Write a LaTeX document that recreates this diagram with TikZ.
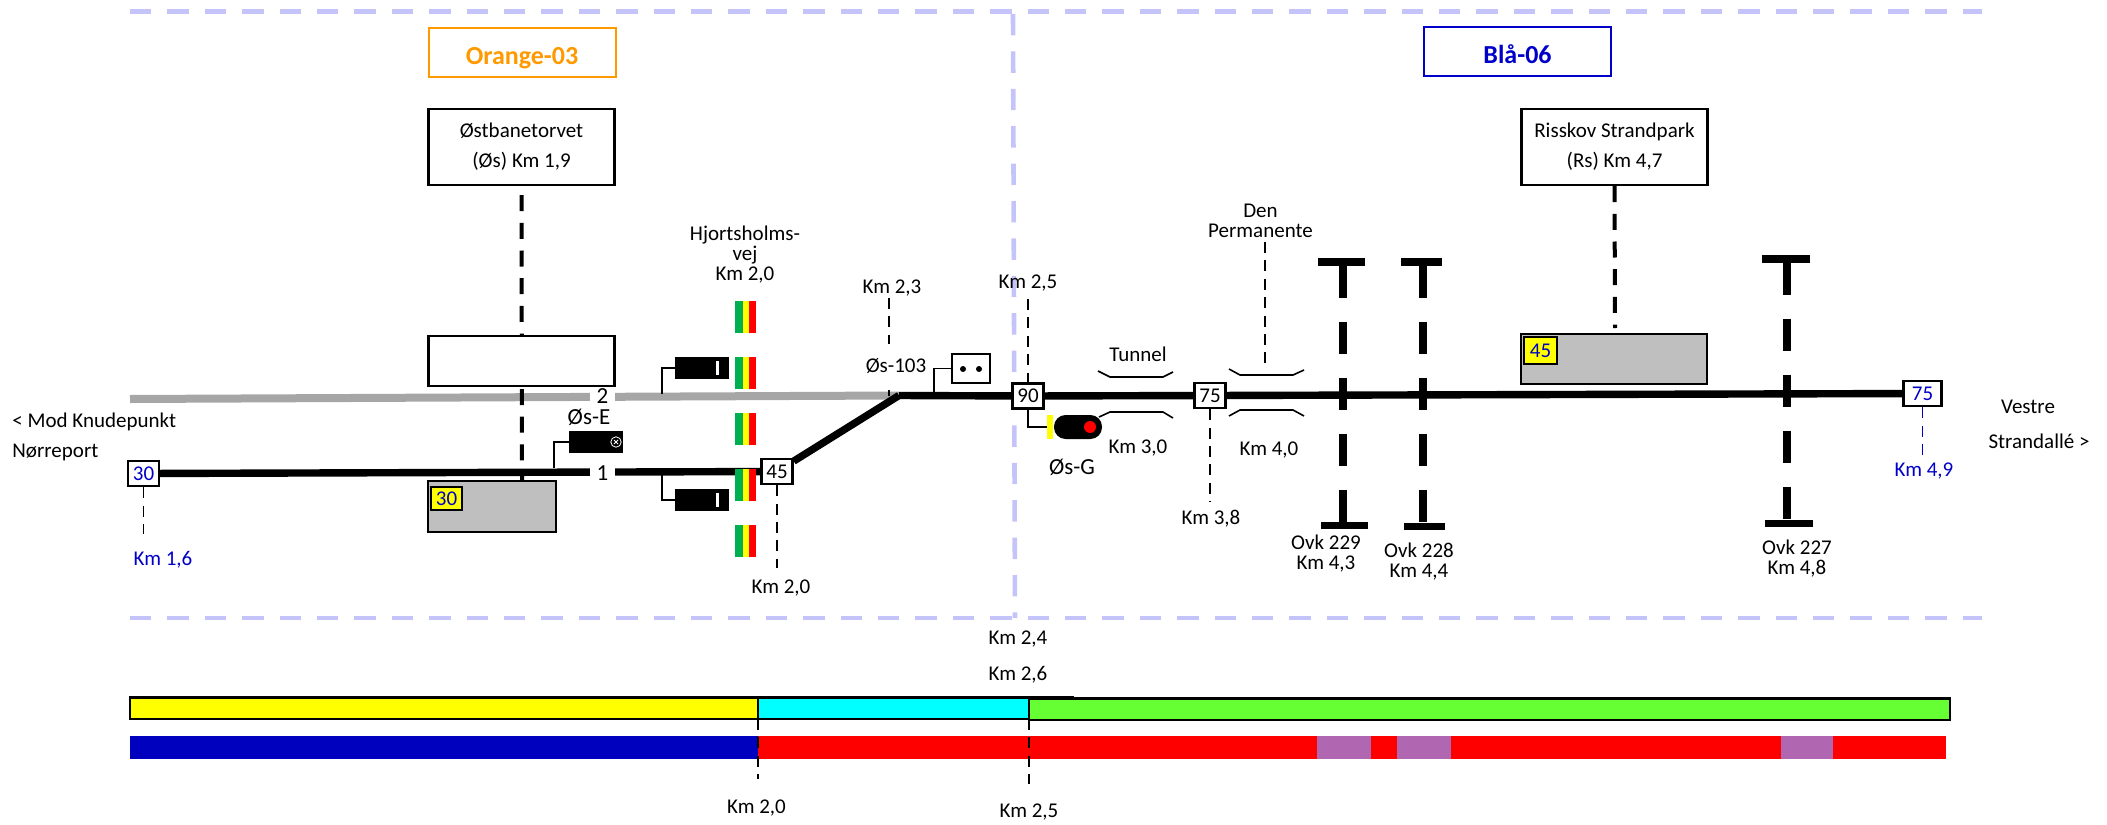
\documentclass[tikz,border=0pt]{standalone}
\usepackage{xcolor}
\usepackage{fontspec}
\setmainfont{Carlito}
\usetikzlibrary{positioning}
\definecolor{zoneline}{HTML}{C4C4FA}
\definecolor{lineorange}{HTML}{FF9900}
\definecolor{lineblue}{HTML}{0000C8}
\definecolor{trackgrey}{HTML}{A6A6A6}
\definecolor{perrongrey}{HTML}{BFBFBF}
\definecolor{barblue}{HTML}{0000BF}
\definecolor{bargreen}{HTML}{66FF33}
\definecolor{barpurple}{HTML}{B066B0}
\definecolor{barcyan}{HTML}{00FFFF}
\definecolor{baryellow}{HTML}{FFFF00}
\definecolor{barred}{HTML}{FF0000}
\definecolor{stripegreen}{HTML}{00B050}
\tikzset{
	txt/.style={inner sep=0pt,yshift=-.5pt,font=\fontsize{10.5}{10}\selectfont,align=center},
	bluetxt/.style={txt,text=lineblue},
	sigtxt/.style={inner sep=0pt,yshift=-.5pt,font=\fontsize{11.5}{12}\selectfont},
	stationbox/.style={draw,fill=white,line width=1.1pt,inner sep=0pt,minimum width=93pt,minimum height=38pt,align=center,font=\fontsize{10.5}{15}\selectfont},
	linebox/.style={draw,line width=1pt,inner sep=0pt,minimum width=93.5pt,minimum height=24.5pt,text height=12pt,text depth=0pt,font=\bfseries\fontsize{13}{13}\selectfont},
	perron/.style={draw,fill=perrongrey,line width=1.1pt,inner sep=0pt},
	speedbox/.style={draw,fill=white,line width=1.2pt,inner sep=0pt,minimum width=15.5pt,minimum height=12.5pt,font=\fontsize{10.5}{10}\selectfont},
	speedsign/.style={speedbox,fill=baryellow,text=lineblue},
	track/.style={line width=3.7pt},
	greytrack/.style={line width=4pt,trackgrey},
	stem/.style={line width=.65pt},
	kmline/.style={line width=.75pt,dash pattern=on 5.5pt off 3.7pt},
	stopline/.style={line width=2pt,dash pattern=on 8pt off 5.85pt},
	ovkline/.style={line width=4pt,dash pattern=on 16pt off 12pt},
	zone/.style={line width=2.3pt,zoneline,dash pattern=on 10.7pt off 8pt},
	bracket/.style={line width=.8pt},
	signal/.style={fill=black,inner sep=0pt,minimum width=27pt,minimum height=11pt},
	crossing/.style={inner sep=0pt,minimum width=10.5pt,minimum height=16pt,path picture={
		\fill[barred] (path picture bounding box.south west) rectangle (path picture bounding box.north east);
		\fill[baryellow] (path picture bounding box.south west) rectangle ([xshift=7pt]path picture bounding box.north west);
		\fill[stripegreen] (path picture bounding box.south west) rectangle ([xshift=4pt]path picture bounding box.north west);}}
}
\begin{document}
\begin{tikzpicture}[x=.5pt,y=-.5pt]
\useasboundingbox (0,0) rectangle (2107,824);

% zone borders
\coordinate (ZoneTopL) at (130,11.5);
\coordinate (ZoneTopR) at (1982,11.5);
\coordinate (ZoneBotL) at (130,618);
\coordinate (ZoneBotR) at (1982,618);
\coordinate (ZoneMidT) at (1013,14);
\coordinate (ZoneMidB) at (1015,618);
\draw[zone] (ZoneTopL) -- (ZoneTopR);
\draw[zone] (ZoneBotL) -- (ZoneBotR);
\draw[zone] (ZoneMidT) -- (ZoneMidB);

\node[linebox,draw=lineorange,text=lineorange] (Orange) at (522,52.5) {Orange-03};
\node[linebox,draw=lineblue,text=lineblue] (Blaa) at (1517.5,52) {Blå-06};

% stations
\node[stationbox] (Ostbanetorvet) at (521.5,147) {Østbanetorvet\\(Øs) Km 1,9};
\node[stationbox] (Risskov) at (1614.5,147) {Risskov Strandpark\\(Rs) Km 4,7};

% speed boards
\node[speedbox,text=lineblue] (V30) at (143.5,473.5) {30};
\node[speedbox] (V45) at (777,471.5) {45};
\node[speedbox] (V90) at (1028,396) {90};
\node[speedbox] (V75) at (1210,395.5) {75};
\node[speedbox,text=lineblue,minimum width=19pt] (V75end) at (1922.5,393.5) {75};

% tracks
\coordinate (GreyL) at (130,399);
\coordinate (Switch) at (899,395.5);
\draw[greytrack] (GreyL) -- (Switch);
\draw[track] (V30) -- (V45);
\draw[track] (V45) -- (Switch);
\draw[track] (Switch) -- (V90);
\draw[track] (V90) -- (V75);
\draw[track] (V75) -- (V75end);

% perrons
\coordinate (OsPerronTop) at (522,481);
\draw[stopline,dash phase=9.35pt] (Ostbanetorvet.south) -- (OsPerronTop);
\node[draw,fill=white,line width=1.1pt,inner sep=0pt,minimum width=93pt,minimum height=25pt] (OsBlank) at (521.5,361) {};
\node[perron,minimum width=64pt,minimum height=25.5pt] (OsPerron) at (492,506.5) {};
\node[speedsign,minimum width=15.5pt,minimum height=11.5pt] (OsSign) at (446.5,498.5) {30};
\node[perron,minimum width=93pt,minimum height=25pt] (RsPerron) at (1614,359) {};
\node[speedsign,minimum width=16.5pt,minimum height=13.5pt] (RsSign) at (1540.5,350.5) {45};
\coordinate (RsDash) at (1615,328);
\draw[stopline] (Risskov.south) -- (RsDash);

% track numbers
\node[fill=white,sigtxt,minimum width=12.5pt,minimum height=8pt] (Spor2) at (602.5,395) {2};
\node[fill=white,sigtxt,minimum width=12.5pt,minimum height=6pt] (Spor1) at (602.5,472) {1};

% level crossing Hjortsholmsvej
\node[crossing] (Cross1) at (745.5,317) {};
\node[crossing] (Cross2) at (745.5,373) {};
\node[crossing] (Cross3) at (745.5,429) {};
\node[crossing] (Cross4) at (745.5,485) {};
\node[crossing] (Cross5) at (745.5,541) {};
\node[txt] (Hjort) at (745,254) {Hjortsholms-\\vej\\Km 2,0};

% signals
\node[signal] (SigE) at (596,442) {};
\draw[white,line width=.4pt,fill=black] (616,442) circle (2.6pt);
\draw[white,line width=.5pt] (614,440) -- (618,444) (618,440) -- (614,444);
\node[sigtxt] (SigEtxt) at (589,416) {Øs-E};
\coordinate (SigEfoot) at (554,468);
\draw[stem] (SigEfoot) |- (SigE.west);

\node[signal] (SigA) at (702,368) {};
\fill[white] (715.5,361) rectangle (718.5,375);
\coordinate (SigAfoot) at (662,394);
\draw[stem] (SigAfoot) |- (SigA.west);

\node[signal] (SigB) at (702,500) {};
\fill[white] (715.5,493) rectangle (718.5,507);
\coordinate (SigBfoot) at (662,472);
\draw[stem] (SigBfoot) |- (SigB.west);

\node[draw=none,fill=baryellow,inner sep=0pt,minimum width=3pt,minimum height=12pt] (SigGbar) at (1050,427) {};
\node[fill=black,rounded corners=5.8pt,inner sep=0pt,minimum width=24pt,minimum height=12pt] (SigG) at (1078,427) {};
\node[fill=barred,circle,inner sep=0pt,minimum size=6pt] (SigGlamp) at (1090,427) {};
\draw[stem] (V90.south) |- (SigGbar.west);
\node[sigtxt] (SigGtxt) at (1072,466) {Øs-G};

% km marks
\coordinate (Km23top) at (889,298);
\coordinate (Km23foot) at (889,396);
\draw[kmline] (Km23top) -- (Km23foot);
\node[txt] (Km23) at (892,287) {Km 2,3};
\node[txt,fill=white,minimum height=22pt] (Os103) at (896,365) {Øs-103};
\node[draw,fill=white,line width=.7pt,inner sep=0pt,minimum width=19pt,minimum height=14.5pt] (Bell) at (971,368.5) {};
\fill (963,369) circle (1.5pt);
\fill (979,369) circle (1.5pt);
\coordinate (BellFoot) at (934,393);
\draw[stem] (BellFoot) |- (Bell.west);

\coordinate (Km25top) at (1028,299);
\draw[kmline] (Km25top) -- (V90.north);
\node[txt] (Km25) at (1028,282) {Km 2,5};
\coordinate (Km16foot) at (143.5,534);
\draw[kmline] (V30.south) -- (Km16foot);
\node[bluetxt] (Km16) at (163,559) {Km 1,6};
\coordinate (Km20foot) at (777,568);
\draw[kmline] (V45.south) -- (Km20foot);
\node[txt] (Km20) at (781,587) {Km 2,0};
\coordinate (Km38foot) at (1210,502);
\draw[kmline] (V75.south) -- (Km38foot);
\node[txt] (Km38) at (1211,518) {Km 3,8};
\coordinate (Km49foot) at (1922.5,456);
\draw[kmline,lineblue] (V75end.south) -- (Km49foot);
\node[bluetxt] (Km49) at (1924,470) {Km 4,9};

% tunnel and Den Permanente
\coordinate (TunA) at (1098,371);
\coordinate (TunB) at (1110,377);
\coordinate (TunC) at (1163,377);
\coordinate (TunD) at (1173,372);
\draw[bracket] (TunA) -- (TunB) -- (TunC) -- (TunD);
\coordinate (TunE) at (1099,417);
\coordinate (TunF) at (1110,412);
\coordinate (TunG) at (1163,412);
\coordinate (TunH) at (1173,418);
\draw[bracket] (TunE) -- (TunF) -- (TunG) -- (TunH);
\node[txt] (Tunnel) at (1138,353) {Tunnel};
\node[txt] (Km30) at (1138,447) {Km 3,0};
\coordinate (DenA) at (1229,369);
\coordinate (DenB) at (1240,375);
\coordinate (DenC) at (1293,375);
\coordinate (DenD) at (1304,370);
\draw[bracket] (DenA) -- (DenB) -- (DenC) -- (DenD);
\coordinate (DenE) at (1229,416);
\coordinate (DenF) at (1240,410);
\coordinate (DenG) at (1293,410);
\coordinate (DenH) at (1304,416);
\draw[bracket] (DenE) -- (DenF) -- (DenG) -- (DenH);
\coordinate (DenTop) at (1265,242);
\coordinate (DenFoot) at (1265,369);
\draw[kmline] (DenTop) -- (DenFoot);
\node[txt] (DenPerm) at (1260.5,220) {Den\\Permanente};
\node[txt] (Km40) at (1269,449) {Km 4,0};

% overkoersler
\coordinate (O229top) at (1343,266);
\coordinate (O229bot) at (1343,522);
\draw[ovkline] (O229top) -- (O229bot);
\coordinate (O229a) at (1318,262);
\coordinate (O229b) at (1365,262);
\draw[line width=4pt] (O229a) -- (O229b);
\coordinate (O229c) at (1321,525.5);
\coordinate (O229d) at (1368,525.5);
\draw[line width=3.5pt] (O229c) -- (O229d);
\node[txt] (Ovk229) at (1326,553) {Ovk 229\\Km 4,3};

\coordinate (O228top) at (1423,266);
\coordinate (O228bot) at (1423,522);
\draw[ovkline] (O228top) -- (O228bot);
\coordinate (O228a) at (1401,262);
\coordinate (O228b) at (1442,262);
\draw[line width=4pt] (O228a) -- (O228b);
\coordinate (O228c) at (1404,526);
\coordinate (O228d) at (1445,526);
\draw[line width=3.5pt] (O228c) -- (O228d);
\node[txt] (Ovk228) at (1419,560.5) {Ovk 228\\Km 4,4};

\coordinate (O227top) at (1787,263);
\coordinate (O227bot) at (1787,519);
\draw[ovkline] (O227top) -- (O227bot);
\coordinate (O227a) at (1762,259);
\coordinate (O227b) at (1810,259);
\draw[line width=4pt] (O227a) -- (O227b);
\coordinate (O227c) at (1765,523);
\coordinate (O227d) at (1813,523);
\draw[line width=3.5pt] (O227c) -- (O227d);
\node[txt] (Ovk227) at (1797,557.5) {Ovk 227\\Km 4,8};

% line ends
\node[txt,anchor=west] (Mod) at (12,420.5) {< Mod Knudepunkt};
\node[txt,anchor=west] (Norre) at (12,451.5) {Nørreport};
\node[txt] (Vestre) at (2028,406) {Vestre};
\node[txt] (Strand) at (2039,440) {Strandallé >};

% bars
\draw[line width=1.25pt,fill=baryellow] (130,697.5) rectangle (758,719);
\draw[line width=1.25pt,fill=barcyan] (758,697.5) rectangle (1029,719);
\draw[line width=1.25pt,fill=bargreen] (1029,698.5) rectangle (1950,720);
\draw[line width=1.25pt] (1029,697) -- (1074,697);
\fill[barred] (758,736) rectangle (1946,759);
\fill[barblue] (130,736) rectangle (758,759);
\fill[barpurple] (1317,736) rectangle (1371,759);
\fill[barpurple] (1397,736) rectangle (1451,759);
\fill[barpurple] (1781,736) rectangle (1833,759);
\coordinate (Bar20top) at (758,719);
\coordinate (Bar20foot) at (758,779);
\draw[kmline,line width=.6pt] (Bar20top) -- (Bar20foot);
\coordinate (Bar25top) at (1029,719);
\coordinate (Bar25foot) at (1029,784);
\draw[kmline,line width=.6pt] (Bar25top) -- (Bar25foot);
\node[txt] (Km24) at (1018,638) {Km 2,4};
\node[txt] (Km26) at (1018,674) {Km 2,6};
\node[txt] (Km20b) at (756.5,807) {Km 2,0};
\node[txt] (Km25b) at (1029,811) {Km 2,5};

\end{tikzpicture}
\end{document}
